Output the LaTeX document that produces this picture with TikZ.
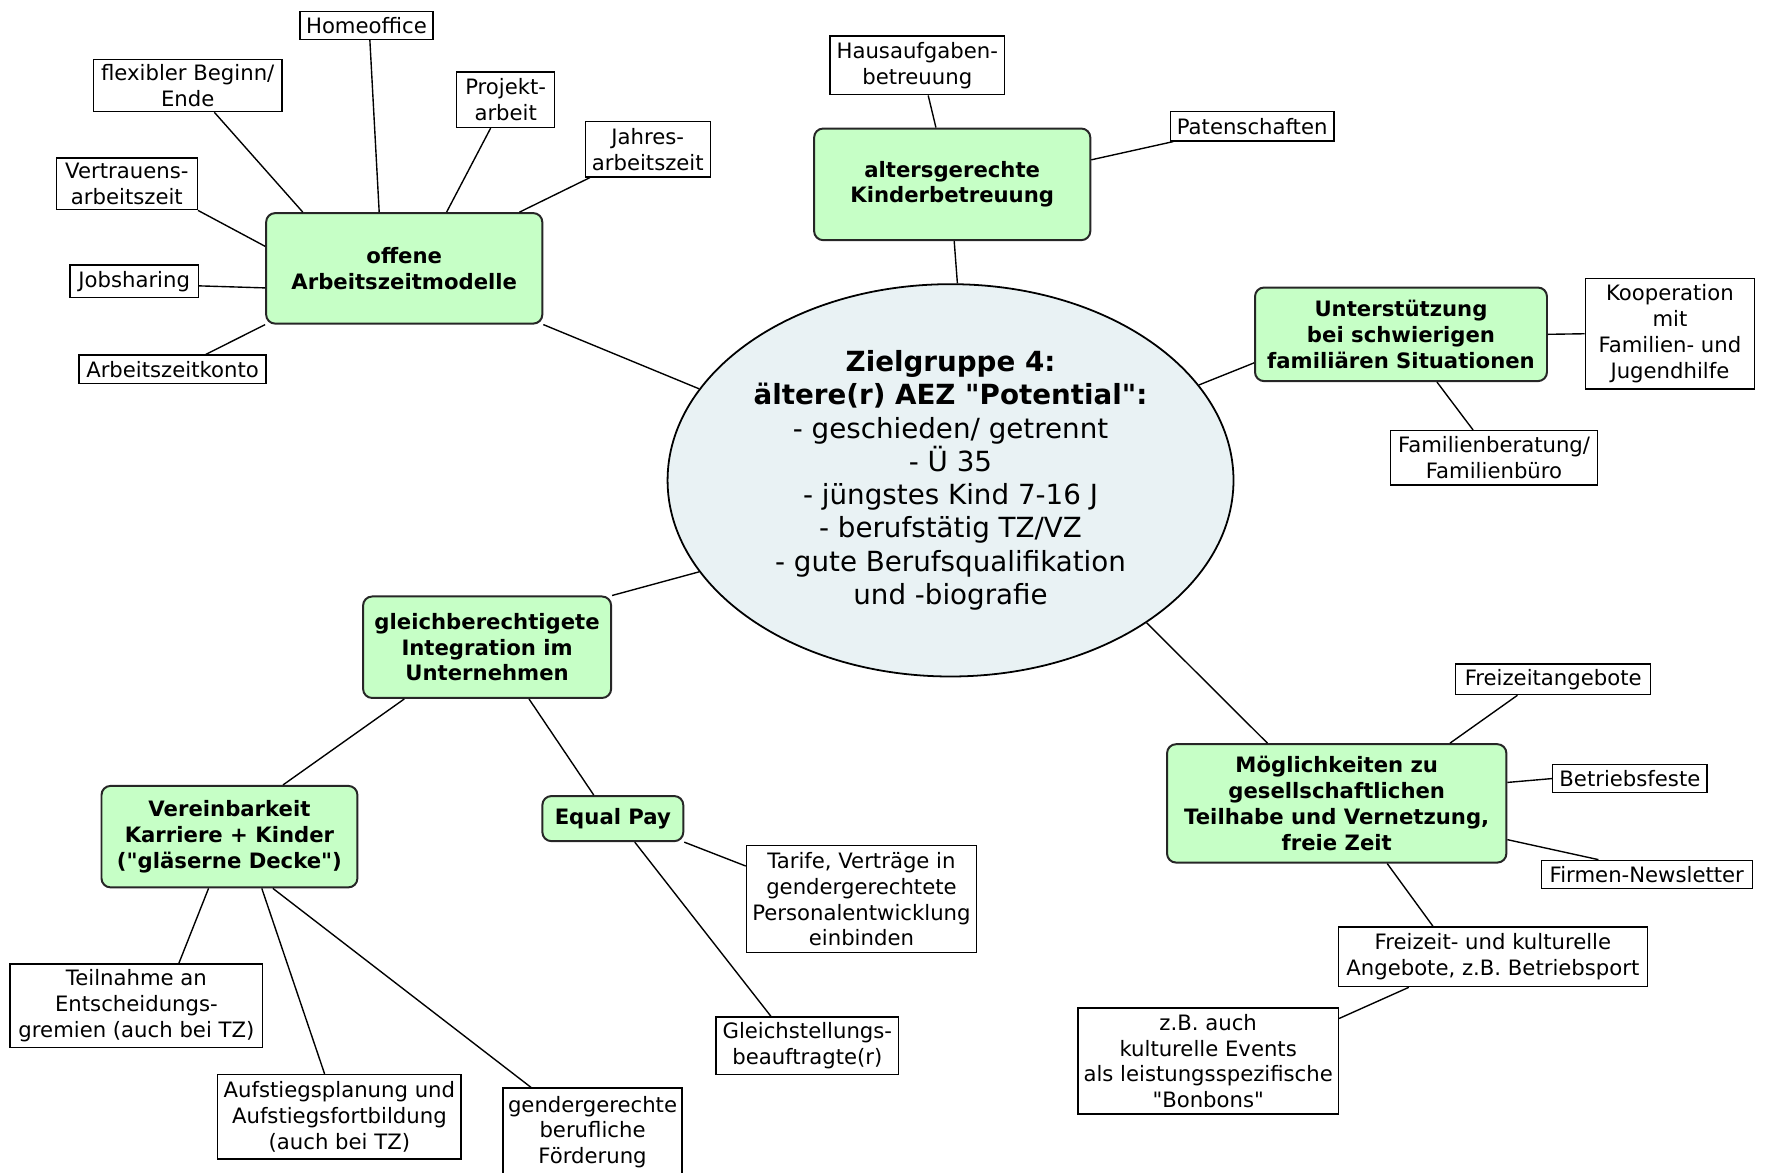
\documentclass[tikz,border=0pt]{standalone}
\usepackage{fontspec}
\setmainfont{DejaVu Sans}[Ligatures=TeXOff]
\usepackage{tikz}
\usetikzlibrary{shapes}
\definecolor{hubfill}{RGB}{233,242,244}
\definecolor{topicfill}{RGB}{198,255,198}
\tikzset{
    hubnode/.style = {ellipse, draw=black, line width=0.9pt, fill=hubfill, align=center, inner sep=0pt, minimum width=10.04cm, minimum height=6.96cm, font=\fontsize{14}{16.8}\selectfont},
    topicnode/.style = {rectangle, rounded corners=0.16cm, draw=black!85, line width=1pt, fill=topicfill, align=center, inner sep=1pt, font=\bfseries\fontsize{10.7}{13}\selectfont},
    leafnode/.style = {rectangle, draw=black, line width=0.7pt, fill=white, align=center, inner sep=1pt, font=\fontsize{10.7}{13}\selectfont},
    boxsize/.style 2 args = {minimum width=#1, minimum height=#2},
    edgen/.style = {-, line width=0.7pt, black},
}

\begin{document}
\begin{tikzpicture}[x=0.02cm, y=-0.02cm]
\path[use as bounding box] (0, 0) rectangle (1568, 1040);
% centre
\node[hubnode] at (843, 426) (hub) {\textbf{Zielgruppe 4:}\\\textbf{ältere(r) AEZ "Potential":}\\- geschieden/ getrennt\\- Ü 35\\- jüngstes Kind 7-16 J\\- berufstätig TZ/VZ\\- gute Berufsqualifikation\\und -biografie};
% topics
\node[topicnode, boxsize={4.9cm}{1.96cm}] at (358.5, 238) (offene) {offene\\Arbeitszeitmodelle};
\node[topicnode, boxsize={4.9cm}{1.98cm}] at (844.5, 163.5) (kinder) {altersgerechte\\Kinderbetreuung};
\node[topicnode, boxsize={5.18cm}{1.66cm}] at (1242.5, 296.5) (unter) {Unterstützung\\bei schwierigen\\familiären Situationen};
\node[topicnode, boxsize={4.4cm}{1.8cm}] at (432, 574) (gleich) {gleichberechtigete\\Integration im\\Unternehmen};
\node[topicnode, boxsize={4.54cm}{1.8cm}] at (203.5, 742) (verein) {Vereinbarkeit\\Karriere + Kinder\\("gläserne Decke")};
\node[topicnode, boxsize={2.5cm}{0.8cm}] at (543.5, 726) (equal) {Equal Pay};
\node[topicnode, boxsize={6.02cm}{2.1cm}] at (1185.5, 712.5) (moeg) {Möglichkeiten zu\\gesellschaftlichen\\Teilhabe und Vernetzung,\\freie Zeit};
% leaves
\node[leafnode, boxsize={2.36cm}{0.5cm}] at (325, 22.5) (home) {Homeoffice};
\node[leafnode, boxsize={3.34cm}{0.92cm}] at (166.5, 76) (flex) {flexibler Beginn/\\Ende};
\node[leafnode, boxsize={1.74cm}{0.98cm}] at (448.5, 88.5) (projekt) {Projekt-\\arbeit};
\node[leafnode, boxsize={2.22cm}{0.98cm}] at (574.5, 132.5) (jahres) {Jahres-\\arbeitszeit};
\node[leafnode, boxsize={2.5cm}{0.92cm}] at (112.5, 163) (vertrauen) {Vertrauens-\\arbeitszeit};
\node[leafnode, boxsize={2.28cm}{0.58cm}] at (119, 249.5) (job) {Jobsharing};
\node[leafnode, boxsize={3.32cm}{0.5cm}] at (153, 327.5) (konto) {Arbeitszeitkonto};
\node[leafnode, boxsize={3.1cm}{1.04cm}] at (813.5, 58) (hausauf) {Hausaufgaben-\\betreuung};
\node[leafnode, boxsize={2.9cm}{0.52cm}] at (1110.5, 112) (paten) {Patenschaften};
\node[leafnode, boxsize={3.0cm}{1.96cm}] at (1481, 296) (koop) {Kooperation\\mit\\Familien- und\\Jugendhilfe};
\node[leafnode, boxsize={3.68cm}{0.96cm}] at (1325, 406) (famber) {Familienberatung/\\Familienbüro};
\node[leafnode, boxsize={3.46cm}{0.54cm}] at (1377.5, 602.5) (freiangebot) {Freizeitangebote};
\node[leafnode, boxsize={2.74cm}{0.5cm}] at (1445.5, 690.5) (feste) {Betriebsfeste};
\node[leafnode, boxsize={3.74cm}{0.5cm}] at (1460.5, 775.5) (newsletter) {Firmen-Newsletter};
\node[leafnode, boxsize={5.48cm}{1.06cm}] at (1324, 848.5) (kultur) {Freizeit- und kulturelle\\Angebote, z.B. Betriebsport};
\node[leafnode, boxsize={4.62cm}{1.88cm}] at (1071.5, 941) (bonbons) {z.B. auch\\kulturelle Events\\als leistungsspezifische\\"Bonbons"};
\node[leafnode, boxsize={4.08cm}{1.9cm}] at (764, 797.5) (tarife) {Tarife, Verträge in\\gendergerechtete\\Personalentwicklung\\einbinden};
\node[leafnode, boxsize={3.24cm}{1.02cm}] at (716, 927.5) (gleichst) {Gleichstellungs-\\beauftragte(r)};
\node[leafnode, boxsize={3.18cm}{1.56cm}] at (525.5, 1004) (genfoerd) {gendergerechte\\berufliche\\Förderung};
\node[leafnode, boxsize={4.32cm}{1.5cm}] at (301, 990.5) (aufstieg) {Aufstiegsplanung und\\Aufstiegsfortbildung\\(auch bei TZ)};
\node[leafnode, boxsize={4.48cm}{1.48cm}] at (121, 892) (teilnahme) {Teilnahme an\\Entscheidungs-\\gremien (auch bei TZ)};
%
\draw[edgen] (offene.south east) edge (hub.160);
\draw[edgen] (kinder.-88) edge (hub.88);
\draw[edgen] (unter.191) edge (hub.21);
\draw[edgen] (gleich.north east) edge (hub.200);
\draw[edgen] (moeg.139) edge (hub.-36);
%
\draw[edgen] (home.-77) edge (offene.114);
\draw[edgen] (flex.-45) edge (offene.151);
\draw[edgen] (projekt.-118) edge (offene.53);
\draw[edgen] (jahres.206) edge (offene.26);
\draw[edgen] (vertrauen.south east) edge (offene.171);
\draw[edgen] (job.-4) edge (offene.188);
\draw[edgen] (konto.24) edge (offene.south west);
%
\draw[edgen] (hausauf.-70) edge (kinder.106);
\draw[edgen] (paten.191) edge (kinder.10);
%
\draw[edgen] (unter.east) edge (koop.west);
\draw[edgen] (famber.127) edge (unter.-53);
%
\draw[edgen] (freiangebot.204) edge (moeg.28);
\draw[edgen] (moeg.7) edge (feste.west);
\draw[edgen] (moeg.-12.5) edge (newsletter.163);
\draw[edgen] (moeg.-50) edge (kultur.153);
\draw[edgen] (kultur.200) edge (bonbons.18);
%
\draw[edgen] (gleich.212) edge (verein.44);
\draw[edgen] (gleich.-51) edge (equal.129);
\draw[edgen] (verein.-112) edge (teilnahme.45);
\draw[edgen] (verein.-58) edge (aufstieg.109);
\draw[edgen] (verein.-50) edge (genfoerd.144);
\draw[edgen] (equal.south east) edge (tarife.164);
\draw[edgen] (equal.-47) edge (gleichst.141);
\end{tikzpicture}
\end{document}
